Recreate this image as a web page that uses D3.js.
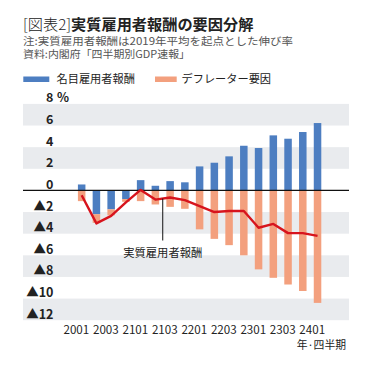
<!DOCTYPE html>
<html><head><meta charset="utf-8">
<script src="https://cdn.jsdelivr.net/npm/d3@7"></script>
<style>
html,body{margin:0;padding:0;background:#fff;}
svg{display:block;}
text{font-family:"Noto Sans CJK JP","Noto Sans",sans-serif;}
</style></head>
<body><svg id="c" width="374" height="365"></svg>
<script>
const quarters = ["2001","2002","2003","2004","2101","2102","2103","2104","2201","2202","2203","2204","2301","2302","2303","2304","2401"];
const tickLabels = ["2001","2003","2101","2103","2201","2203","2301","2303","2401"];
const nominal = [0.55,-2.2,-1.75,-0.8,0.95,0.43,0.86,0.75,2.22,2.56,3.15,4.13,3.92,5.09,4.78,5.4,6.23];
const deflator = [-0.99,-0.8,-0.55,-0.25,-0.99,-1.3,-1.52,-1.7,-3.6,-4.48,-5.06,-6.0,-7.3,-8.08,-8.7,-9.3,-10.4];
const real = [-0.45,-3.05,-2.35,-1.1,0.05,-0.85,-0.65,-0.9,-1.45,-2.0,-1.9,-1.9,-3.45,-3.1,-3.95,-3.95,-4.2];
const yTicks = [8,6,4,2,0,-2,-4,-6,-8,-10,-12];
const seriesNames = ["名目雇用者報酬","デフレーター要因"];
const lineName = "実質雇用者報酬";
const noteLines = ["注:実質雇用者報酬は2019年平均を起点とした伸び率", "資料:内閣府「四半期別GDP速報」"];

const svg = d3.select("#c");
const C_BLUE = "#4d7ec1", C_ORANGE = "#f3a07e", C_RED = "#d7141d", C_BAND = "#e9ebee";

const y = d3.scaleLinear().domain([-12, 8]).range([320.2, 103.9]);
const x = d3.scaleBand().domain(quarters).range([74.3, 324.9]).paddingInner(0.49).paddingOuter(0.245);
const plotL = 23, plotR = 349;

// Title
const t = svg.append("text").attr("x", 23).attr("y", 29.5).attr("font-size", 15.2).attr("fill", "#222");
t.append("tspan").attr("font-weight", 300).text("[図表2]");
t.append("tspan").attr("font-weight", 700).text("実質雇用者報酬の要因分解");

// Note block (one text, two lines)
const nt = svg.append("text").attr("x", 23).attr("y", 45.4).attr("font-size", 10.5).attr("fill", "#555");
nt.append("tspan").attr("x", 23).attr("y", 45.4)
  .attr("textLength", 270).attr("lengthAdjust", "spacingAndGlyphs").text(noteLines[0]);
nt.append("tspan").attr("x", 23).attr("y", 58.4)
  .attr("textLength", 167).attr("lengthAdjust", "spacingAndGlyphs").text(noteLines[1]);

// Legend
const lg = [{n: seriesNames[0], c: C_BLUE, x: 23.3, w: 26, tx: 56.5},
            {n: seriesNames[1], c: C_ORANGE, x: 155, w: 21.7, tx: 181.5}];
lg.forEach(d => {
  svg.append("rect").attr("x", d.x).attr("y", 76.5).attr("width", d.w).attr("height", 5.5).attr("fill", d.c);
  svg.append("text").attr("x", d.tx).attr("y", 83.3).attr("font-size", 11.2).attr("fill", "#222").text(d.n);
});

// Bands
const bandPairs = [[8,6],[4,2],[-2,-4],[-6,-8],[-10,-12]];
svg.append("g").selectAll("rect").data(bandPairs).join("rect")
  .attr("x", plotL).attr("width", plotR - plotL)
  .attr("y", d => y(d[0])).attr("height", d => y(d[1]) - y(d[0]))
  .attr("fill", C_BAND);

// Y labels
const yl = svg.append("g");
yTicks.forEach(v => {
  const lab = (v < 0 ? "▲" + (-v) : "" + v);
  yl.append("text").attr("x", 53.5).attr("y", y(v) - 1.5).attr("text-anchor", "end")
    .attr("font-size", 12.5).attr("font-weight", 700).attr("fill", "#222").text(lab);
});
yl.append("text").attr("x", 57).attr("y", y(8) - 1.5).attr("font-size", 12.5).attr("font-weight", 700)
  .attr("fill", "#222").text("%");

// Bars (diverging stack)
const bw = x.bandwidth();
const g = svg.append("g");
quarters.forEach((q, i) => {
  const n = nominal[i], d = deflator[i];
  g.append("rect").attr("x", x(q)).attr("width", bw)
    .attr("y", y(Math.max(0, n))).attr("height", Math.abs(y(n) - y(0)))
    .attr("fill", C_BLUE);
  const base = n < 0 ? n : 0;
  g.append("rect").attr("x", x(q)).attr("width", bw)
    .attr("y", y(base)).attr("height", y(base + d) - y(base))
    .attr("fill", C_ORANGE);
});

// zero line
svg.append("line").attr("x1", plotL).attr("x2", plotR).attr("y1", y(0)).attr("y2", y(0))
  .attr("stroke", "#111").attr("stroke-width", 1.1);

// real line
const line = d3.line().x((d, i) => x(quarters[i]) + bw / 2).y(d => y(d));
svg.append("path").datum(real).attr("d", line).attr("fill", "none")
  .attr("stroke", C_RED).attr("stroke-width", 2.4).attr("stroke-linejoin", "round");

// annotation
const ax = (x(quarters[5]) + x(quarters[6]) + bw) / 2;
svg.append("line").attr("x1", ax).attr("x2", ax)
  .attr("y1", y((real[5] + real[6]) / 2)).attr("y2", 240.5)
  .attr("stroke", "#111").attr("stroke-width", 1);
svg.append("text").attr("x", ax).attr("y", 256.5).attr("text-anchor", "middle")
  .attr("font-size", 11.3).attr("fill", "#222").text(lineName);

// X labels
tickLabels.forEach(l => {
  svg.append("text").attr("x", x(l) + bw / 2 - 5.3).attr("y", 333.8).attr("text-anchor", "middle")
    .attr("font-size", 11.6).attr("fill", "#222").text(l);
});
svg.append("text").attr("x", 346).attr("y", 348.5).attr("text-anchor", "end")
  .attr("font-size", 10.8).attr("fill", "#222").text("年·四半期");
</script></body></html>
